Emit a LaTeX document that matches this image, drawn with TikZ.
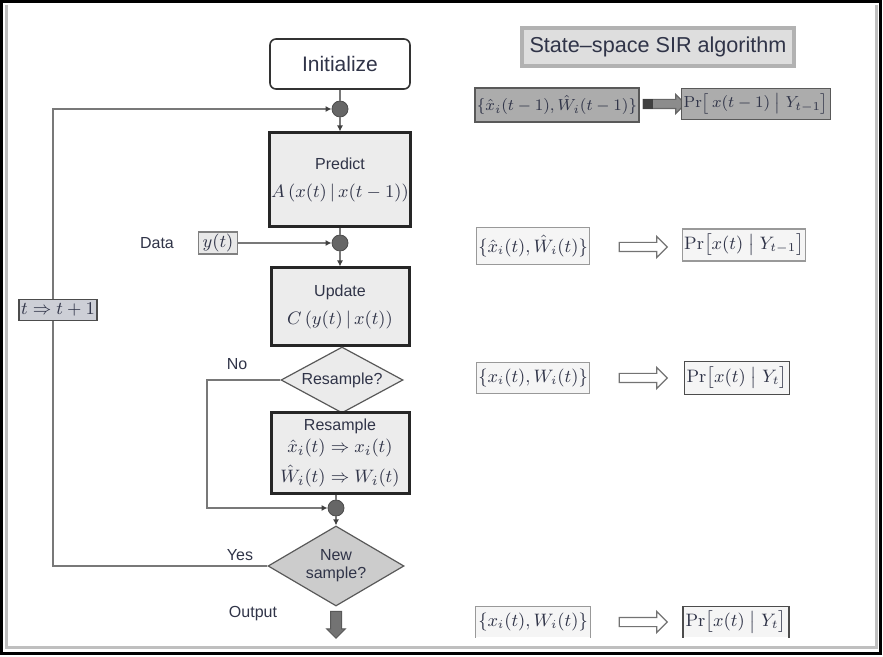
\documentclass[tikz,border=0pt]{standalone}
\usepackage[no-math]{fontspec}
\setmainfont{Liberation Sans}
\usepackage{amsmath,amssymb}
\usetikzlibrary{shapes.geometric, shapes.arrows, arrows.meta, positioning, calc}
\definecolor{inkc}{RGB}{48,52,72}
\definecolor{boxfill}{RGB}{236,236,236}
\definecolor{linegray}{RGB}{120,120,120}
\definecolor{darkfill}{RGB}{172,172,172}
\definecolor{tagfill}{RGB}{205,207,214}
\newcommand{\steplabel}[1]{{\fontsize{8}{10}\selectfont #1}}

\begin{document}
\begin{tikzpicture}[
    x=0.5pt, y=-0.5pt,
    every node/.append style={text=inkc},
    initbox/.style={rectangle, draw=black!80, line width=0.8pt, rounded corners=3pt, minimum width=70pt, minimum height=25pt, font=\fontsize{10.5}{12}\selectfont},
    stepbox/.style={rectangle, draw=black!85, line width=1.5pt, fill=boxfill, minimum width=69pt, align=center, inner sep=1pt, font=\fontsize{9.5}{12}\selectfont},
    decision/.style={diamond, draw=black!65, line width=0.6pt, aspect=1.85, inner sep=1pt, align=center, font=\fontsize{8}{9}\selectfont},
    junction/.style={circle, fill=black!60, draw=black!70, minimum size=8pt, inner sep=0pt},
    lbl/.style={font=\fontsize{8}{10}\selectfont},
    mathbox/.style={rectangle, draw=black!40, line width=0.6pt, fill=black!4, inner sep=1pt, font=\fontsize{9}{11}\selectfont},
    rowarrow/.style={single arrow, draw=black!55, fill=white, line width=0.6pt, inner sep=2pt, single arrow head extend=3pt, minimum height=24pt},
    flowline/.style={draw=linegray, line width=0.6pt},
    arrow/.style={flowline, -{Latex[length=3pt, width=3pt, color=black!75]}}
]
\useasboundingbox (0,0) rectangle (883,657);

% frame
\draw[black!25, line width=1.5pt] (6,5) -- (6,647) -- (876,647) -- (876,5);
\draw[line width=1.5pt] (1.5,1.5) rectangle (880,653);

% flow chart
\node[initbox] (init) at (340,64) {Initialize};
\node[junction] (j1) at (340,109) {};
\node[stepbox, minimum height=47pt] (predict) at (340,180) {\steplabel{Predict}\\[2pt]$A\,(x(t)\,|\,x(t-1))$};
\node[junction] (j2) at (340,243) {};
\node[stepbox, minimum height=39pt] (update) at (340,307) {\steplabel{Update}\\[2pt]$C\,(y(t)\,|\,x(t))$};
\node[decision, fill=black!8, minimum width=61pt, minimum height=33pt] (resq) at (342,380) {Resample?};
\node[stepbox, minimum height=40pt] (rsbox) at (340,453) {\steplabel{Resample}\\[-1pt]$\hat{x}_i(t)\Rightarrow x_i(t)$\\[3pt]$\hat{W}_i(t)\Rightarrow W_i(t)$};
\node[junction] (j3) at (336,508) {};
\node[decision, fill=black!20, minimum width=68pt, minimum height=40pt] (newsample) at (336,566) {New\\sample?};
\node[single arrow, shape border rotate=270, fill=black!55, draw=black!65, line width=0.5pt, inner sep=2.5pt, single arrow head extend=2pt, minimum height=13.5pt] (outarr) at (336,622) {};

% labels
\node[lbl] (datalbl) at (157,243) {Data};
\node[mathbox, fill=black!9, draw=black!50, minimum width=19.5pt, minimum height=10.5pt] (ybox) at (218,243) {$y(t)$};
\node[lbl] (nolbl) at (237,364) {No};
\node[lbl] (yeslbl) at (240,555) {Yes};
\node[lbl] (outlbl) at (253,614) {Output};

% connectors
\coordinate (noturn) at (207,380);
\coordinate (loopturn) at (53,566);
\draw[flowline] (init) -- (j1);
\draw[arrow] (j1) -- (predict);
\draw[flowline] (predict) -- (j2);
\draw[arrow] (ybox) -- (j2);
\draw[arrow] (j2) -- (update);
\draw[flowline] (rsbox.south -| j3) -- (j3);
\draw[arrow] (j3) -- (newsample);
\draw[arrow] (resq.west) -- (noturn) |- (j3);
\draw[arrow] (newsample.west) -- (loopturn) |- (j1);
\node[mathbox, fill=tagfill, draw=black!70, minimum width=36.5pt, minimum height=10.5pt] (tstep) at (58,310) {$t\Rightarrow t+1$};

% SIR algorithm column
\node[rectangle, draw=black!30, line width=2pt, fill=black!13, minimum width=136pt, minimum height=19pt, font=\fontsize{10.8}{12}\selectfont] (title) at (658,47) {State--space SIR algorithm};

\node[mathbox, fill=darkfill, draw=black!65, minimum width=79pt, minimum height=17pt, font=\fontsize{8.2}{10}\selectfont] (prior) at (557,105) {$\{\hat{x}_i(t-1),\hat{W}_i(t-1)\}$};
\node[rowarrow, fill=black!45, draw=black!60, minimum height=21pt, inner sep=2pt, single arrow head extend=2.5pt] (arr1) at (662,104) {};
\fill[black!75] (arr1.before tail) rectangle ($(arr1.after tail)+(10,0)$);
\node[mathbox, fill=darkfill, draw=black!65, minimum width=69.5pt, minimum height=15.5pt, font=\fontsize{8.5}{10}\selectfont] (priorpr) at (756,104) {$\mathrm{Pr}\bigl[\,x(t-1)\bigm|Y_{t-1}\bigr]$};

\node[mathbox, minimum width=55pt, minimum height=18.5pt] (pred) at (533,246) {$\{\hat{x}_i(t),\hat{W}_i(t)\}$};
\node[rowarrow] (arr2) at (641,247) {};
\node[mathbox, minimum width=57pt, minimum height=16pt] (predpr) at (744,245) {$\mathrm{Pr}\bigl[x(t)\bigm|Y_{t-1}\bigr]$};

\node[mathbox, minimum width=55pt, minimum height=15.5pt] (filt) at (533,378) {$\{x_i(t),W_i(t)\}$};
\node[rowarrow] (arr3) at (641,378) {};
\node[mathbox, draw=black!70, minimum width=50.5pt, minimum height=16.5pt] (filtpr) at (737,378) {$\mathrm{Pr}\bigl[x(t)\bigm|Y_t\bigr]$};

\node[mathbox, draw=none, minimum width=55pt, minimum height=15pt] (outp) at (533,622) {$\{x_i(t),W_i(t)\}$};
\draw[black!40, line width=0.6pt] (outp.south west) |- (outp.north east) -- (outp.south east);
\node[rowarrow] (arr4) at (641,622) {};
\node[mathbox, draw=none, minimum width=49.5pt, minimum height=15pt] (outpr) at (736,622) {$\mathrm{Pr}\bigl[x(t)\bigm|Y_t\bigr]$};
\draw[black!70, line width=0.6pt] (outpr.south west) |- (outpr.north east) -- (outpr.south east);

\end{tikzpicture}
\end{document}
